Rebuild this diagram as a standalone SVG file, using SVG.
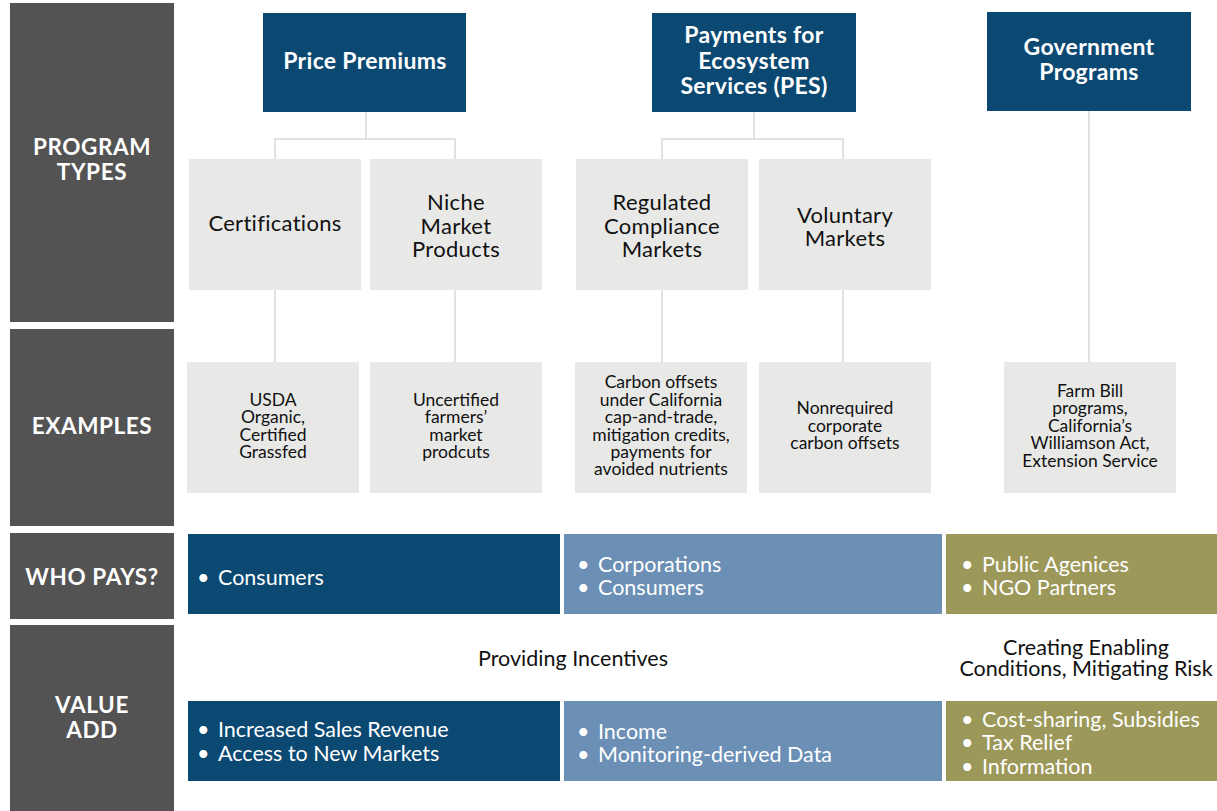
<svg xmlns="http://www.w3.org/2000/svg" width="1217" height="811" viewBox="0 0 1217 811">
<style>
text{font-family:Lato,"Open Sans","Liberation Sans",sans-serif}
.lab{fill:#535353}
.labt{fill:#fff;font-size:22.5px;font-weight:700;text-anchor:middle;letter-spacing:0.6px}
.hdr{fill:#0b4872}
.hdrt{fill:#fff;font-size:23px;font-weight:700;text-anchor:middle;letter-spacing:0.3px}
.cat{fill:#e8e9e7}
.catt{fill:#111;font-size:22px;text-anchor:middle;letter-spacing:0.3px}
.ext{fill:#111;font-size:17.5px;text-anchor:middle}
.dk{fill:#0b4872}
.lb{fill:#6b8fb5}
.ol{fill:#9c9859}
.bt{fill:#fff;font-size:21.5px}
.mid{fill:#111;font-size:21.5px;text-anchor:middle}
.conn{stroke:#e2e2e2;stroke-width:2;fill:none}
</style>
<rect width="1217" height="811" fill="#fff"/>
<g id="connectors" class="conn">
<path d="M366 111V139M275 159V139H455V159"/>
<path d="M754 111V139M662 159V139H843V159"/>
<path d="M1089 110V362"/>
<path d="M275 290V362M455 290V362M662 290V362M843 290V362"/>
</g>
<g id="label-program-types"><rect class="lab" x="10" y="3" width="164" height="319"/><text class="labt" x="92" y="155">PROGRAM</text><text class="labt" x="92" y="180">TYPES</text></g>
<g id="label-examples"><rect class="lab" x="10" y="329" width="164" height="197"/><text class="labt" x="92" y="434">EXAMPLES</text></g>
<g id="label-who-pays"><rect class="lab" x="10" y="533" width="164" height="86"/><text class="labt" x="92" y="585">WHO PAYS?</text></g>
<g id="label-value-add"><rect class="lab" x="10" y="625" width="164" height="186"/><text class="labt" x="92" y="713">VALUE</text><text class="labt" x="92" y="738">ADD</text></g>
<g id="price-premiums"><rect class="hdr" x="263" y="13" width="203" height="99"/><text class="hdrt" x="365" y="69">Price Premiums</text></g>
<g id="pes"><rect class="hdr" x="652" y="13" width="204" height="99"/><text class="hdrt" x="754" y="43">Payments for</text><text class="hdrt" x="754" y="69">Ecosystem</text><text class="hdrt" x="754" y="94">Services (PES)</text></g>
<g id="government-programs"><rect class="hdr" x="987" y="12" width="204" height="99"/><text class="hdrt" x="1089" y="55">Government</text><text class="hdrt" x="1089" y="80">Programs</text></g>
<g id="certifications"><rect class="cat" x="189" y="159" width="172" height="131"/><text class="catt" x="275" y="231">Certifications</text></g>
<g id="niche"><rect class="cat" x="370" y="159" width="172" height="131"/><text class="catt" x="456" y="210">Niche</text><text class="catt" x="456" y="234">Market</text><text class="catt" x="456" y="257">Products</text></g>
<g id="regulated"><rect class="cat" x="576" y="159" width="172" height="131"/><text class="catt" x="662" y="210">Regulated</text><text class="catt" x="662" y="234">Compliance</text><text class="catt" x="662" y="257">Markets</text></g>
<g id="voluntary"><rect class="cat" x="759" y="159" width="172" height="131"/><text class="catt" x="845" y="223">Voluntary</text><text class="catt" x="845" y="246">Markets</text></g>
<g id="ex-usda"><rect class="cat" x="187" y="362" width="172" height="131"/><text class="ext" x="273" y="406">USDA</text><text class="ext" x="273" y="423">Organic,</text><text class="ext" x="273" y="441">Certified</text><text class="ext" x="273" y="458">Grassfed</text></g>
<g id="ex-uncertified"><rect class="cat" x="370" y="362" width="172" height="131"/><text class="ext" x="456" y="406">Uncertified</text><text class="ext" x="456" y="423">farmers’</text><text class="ext" x="456" y="441">market</text><text class="ext" x="456" y="458">prodcuts</text></g>
<g id="ex-carbon"><rect class="cat" x="575" y="362" width="172" height="131"/><text class="ext" x="661" y="388">Carbon offsets</text><text class="ext" x="661" y="406">under California</text><text class="ext" x="661" y="423">cap-and-trade,</text><text class="ext" x="661" y="441">mitigation credits,</text><text class="ext" x="661" y="458">payments for</text><text class="ext" x="661" y="475">avoided nutrients</text></g>
<g id="ex-nonrequired"><rect class="cat" x="759" y="362" width="172" height="131"/><text class="ext" x="845" y="414">Nonrequired</text><text class="ext" x="845" y="432">corporate</text><text class="ext" x="845" y="449">carbon offsets</text></g>
<g id="ex-farmbill"><rect class="cat" x="1004" y="362" width="172" height="131"/><text class="ext" x="1090" y="397">Farm Bill</text><text class="ext" x="1090" y="414">programs,</text><text class="ext" x="1090" y="432">California’s</text><text class="ext" x="1090" y="449">Williamson Act,</text><text class="ext" x="1090" y="467">Extension Service</text></g>
<g id="pays-pp"><rect class="dk" x="188" y="534" width="372" height="80"/><text class="bt" x="197" y="585">•</text><text class="bt" x="218" y="585">Consumers</text></g>
<g id="pays-pes"><rect class="lb" x="564" y="534" width="378" height="80"/><text class="bt" x="577" y="572">•</text><text class="bt" x="598" y="572">Corporations</text><text class="bt" x="577" y="595">•</text><text class="bt" x="598" y="595">Consumers</text></g>
<g id="pays-gov"><rect class="ol" x="946" y="534" width="271" height="80"/><text class="bt" x="961" y="572">•</text><text class="bt" x="982" y="572">Public Agenices</text><text class="bt" x="961" y="595">•</text><text class="bt" x="982" y="595">NGO Partners</text></g>
<g id="providing-incentives"><text class="mid" x="573" y="666">Providing Incentives</text></g>
<g id="creating-enabling"><text class="mid" x="1086" y="655">Creating Enabling</text><text class="mid" x="1086" y="676">Conditions, Mitigating Risk</text></g>
<g id="value-pp"><rect class="dk" x="188" y="701" width="372" height="80"/><text class="bt" x="197" y="737">•</text><text class="bt" x="218" y="737">Increased Sales Revenue</text><text class="bt" x="197" y="761">•</text><text class="bt" x="218" y="761">Access to New Markets</text></g>
<g id="value-pes"><rect class="lb" x="564" y="701" width="378" height="80"/><text class="bt" x="577" y="739">•</text><text class="bt" x="598" y="739">Income</text><text class="bt" x="577" y="762">•</text><text class="bt" x="598" y="762">Monitoring-derived Data</text></g>
<g id="value-gov"><rect class="ol" x="946" y="701" width="271" height="80"/><text class="bt" x="961" y="727">•</text><text class="bt" x="982" y="727">Cost-sharing, Subsidies</text><text class="bt" x="961" y="750">•</text><text class="bt" x="982" y="750">Tax Relief</text><text class="bt" x="961" y="774">•</text><text class="bt" x="982" y="774">Information</text></g>
</svg>
